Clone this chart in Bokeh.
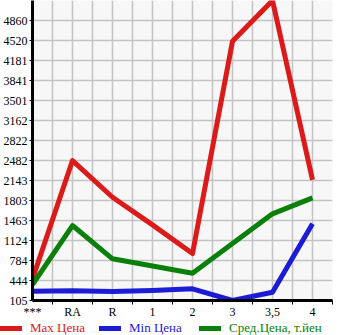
from bokeh.plotting import figure
from bokeh.layouts import column, row
from bokeh.models import Range1d, FixedTicker, Legend, LegendItem
from bokeh.embed import file_html
from bokeh.resources import INLINE

categories = ["***", "RA", "R", "1", "2", "3", "3,5", "4"]
max_price = [473, 2482, 1859, 1389, 903, 4508, 5200, 2154]
min_price = [263, 270, 258, 275, 304, 105, 246, 1407]
avg_price = [377, 1378, 813, 691, 569, 1073, 1577, 1849]
y_ticks = [105, 444, 784, 1124, 1463, 1803, 2143, 2482, 2822, 3162, 3501, 3841, 4181, 4520, 4860]
y_top = 5200
series_names = ["Max Цена", "Min Цена", "Сред.Цена, т.йен"]

RED = "#dc1a1a"
BLUE = "#1c1cd6"
GREEN = "#0a800a"
FONT = "Liberation Serif"

xs = list(range(len(categories)))

p = figure(frame_width=300, frame_height=300, output_backend="svg", toolbar_location=None,
           x_range=Range1d(0, len(categories) - 0.5), y_range=Range1d(y_ticks[0], y_top),
           min_border_left=30, min_border_right=15, min_border_top=0, min_border_bottom=0)
p.background_fill_color = "#f7f7f7"
p.border_fill_color = "white"
p.outline_line_color = None

# grids
half_steps = [i * 0.5 for i in range(2 * len(categories))]
p.xgrid.ticker = FixedTicker(ticks=half_steps)
p.ygrid.ticker = FixedTicker(ticks=y_ticks + [y_top])
for g in (p.xgrid, p.ygrid):
    g.grid_line_color = "#c3c3c3"
    g.grid_line_width = 1.5

# x axis
xa = p.xaxis[0]
xa.ticker = FixedTicker(ticks=xs, minor_ticks=[x + 0.5 for x in xs])
xa.major_label_overrides = {i: c for i, c in enumerate(categories)}
xa.major_tick_out = 0
xa.major_tick_in = 0
xa.minor_tick_out = 4
xa.minor_tick_in = 0
xa.minor_tick_line_color = "black"
xa.axis_line_width = 3
xa.axis_line_color = "black"
xa.major_label_text_font = FONT
xa.major_label_text_font_size = "12px"
xa.major_label_text_color = "black"
xa.major_label_standoff = 0

ya = p.yaxis[0]
ya.ticker = FixedTicker(ticks=y_ticks)
ya.major_tick_out = 3
ya.major_tick_in = 0
ya.minor_tick_out = 0
ya.minor_tick_in = 0
ya.axis_line_width = 3
ya.axis_line_color = "black"
ya.major_label_text_font = FONT
ya.major_label_text_font_size = "12px"
ya.major_label_text_color = "black"
ya.major_label_standoff = 2

p.line(xs, max_price, line_color=RED, line_width=5, line_join="round")
p.line(xs, min_price, line_color=BLUE, line_width=5, line_join="round")
p.line(xs, avg_price, line_color=GREEN, line_width=5, line_join="round")

# legend strip below the chart (its own glyphs sit outside its visible range)
leg = figure(width=345, height=18, output_backend="svg", toolbar_location=None,
             x_range=Range1d(100, 101), y_range=Range1d(0, 1),
             x_axis_location=None, y_axis_location=None,
             min_border_left=0, min_border_right=0, min_border_top=0, min_border_bottom=0)
leg.grid.visible = False
leg.outline_line_color = None
leg.background_fill_alpha = 0
leg.border_fill_alpha = 0

for vals, name, col, xpos in [(max_price, series_names[0], RED, 0),
                              (min_price, series_names[1], BLUE, 99),
                              (avg_price, series_names[2], GREEN, 199)]:
    rend = leg.line(xs, vals, line_color=col, line_width=5, line_cap="round")
    lg = Legend(items=[LegendItem(label=name, renderers=[rend])], location=(xpos, 1),
                label_text_color=col, label_text_font=FONT, label_text_font_size="13px",
                glyph_width=22, glyph_height=12, label_standoff=8, padding=0, margin=0,
                spacing=0, border_line_color=None, background_fill_alpha=0)
    leg.add_layout(lg, "center")

layout = column(p, row(leg, margin=(-2, 0, 0, 0)), spacing=0)
open("out.html", "w").write(file_html(layout, INLINE))
